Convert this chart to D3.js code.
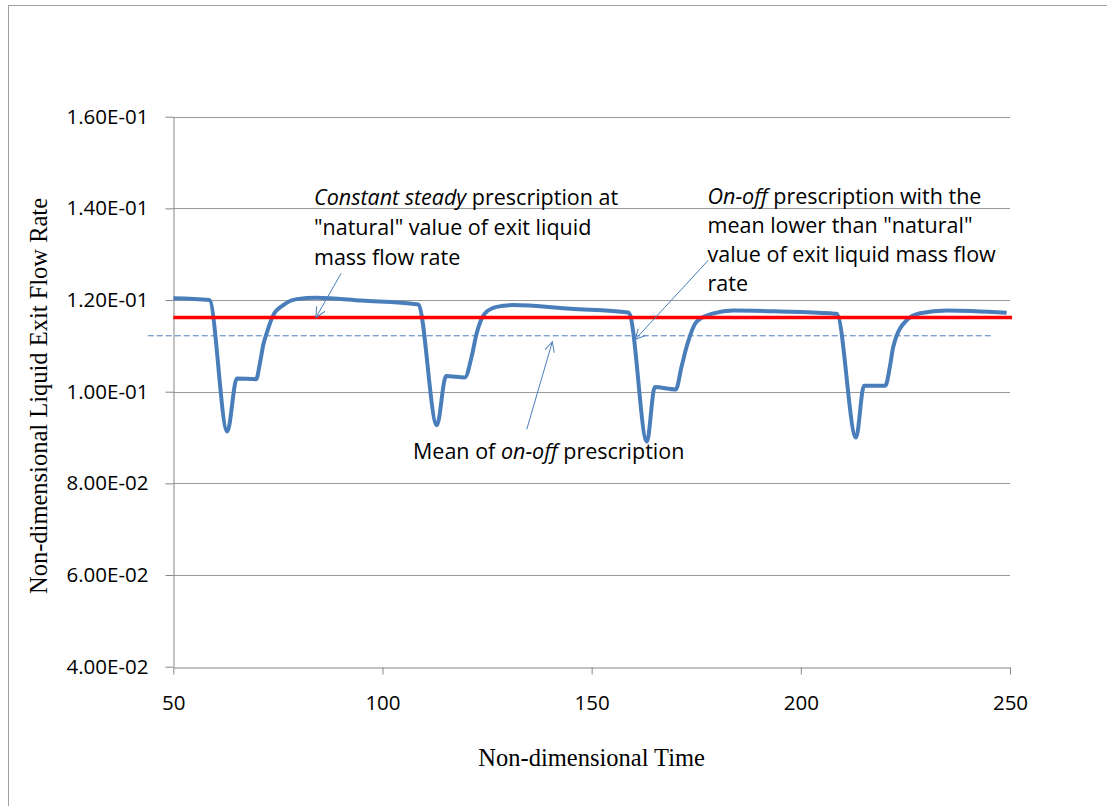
<!DOCTYPE html>
<html>
<head>
<meta charset="utf-8">
<script src="https://cdn.jsdelivr.net/npm/d3@7"></script>
<style>
  body { margin: 0; background: #fff; }
  svg { display: block; }
</style>
</head>
<body>
<script>
// on-off prescription
var timeValues = [50, 58.6, 62.9, 65.2, 69.8, 70.7, 71.5, 72.3, 73.9, 76.3, 79.5, 84.3, 95, 108.2,
    108.6, 113.0, 115.2, 119.7, 121.3, 122.5, 124.5, 127.3, 131.3, 145, 158.8,
    159.2, 163.2, 165.1, 170.1, 171.5, 172.7, 175.1, 179.1, 183.9, 195, 207.0,
    208.6, 213.2, 215.1, 220.2, 221.3, 222.1, 225.3, 228.5, 234.9, 249.2];
var flowValues = [0.1204, 0.1200, 0.0913, 0.1029, 0.1027, 0.1062, 0.1102, 0.1127, 0.1167, 0.1189, 0.1202, 0.1205, 0.1199, 0.1191,
    0.1190, 0.0927, 0.1034, 0.1031, 0.1076, 0.1127, 0.1171, 0.1185, 0.1189, 0.1181, 0.1173,
    0.1167, 0.0891, 0.1010, 0.1005, 0.1055, 0.1098, 0.1153, 0.1171, 0.1177, 0.1175, 0.1171,
    0.1170, 0.0900, 0.1013, 0.1013, 0.1055, 0.1098, 0.1156, 0.1171, 0.1177, 0.1172];

// constant steady prescription and mean of on-off
var steadyTime = [50, 250.5];
var steadyValue = [0.1162, 0.1162];
var meanTime = [43.9, 245.9];
var meanValue = [0.1122, 0.1122];

var xTicks = [50, 100, 150, 200, 250];
var yTicks = [0.04, 0.06, 0.08, 0.10, 0.12, 0.14, 0.16];
var yTickLabels = ['4.00E-02', '6.00E-02', '8.00E-02', '1.00E-01', '1.20E-01', '1.40E-01', '1.60E-01'];

// annotation arrows [x0, y0, x1, y1] in data units
var arrows = [
    [90.1, 0.1258, 84.1, 0.1162],
    [177.9, 0.1287, 160.4, 0.1114],
    [134.5, 0.0918, 140.6, 0.1109]
];

var width = 1107;
var height = 806;
var plotLeft = 173.3, plotRight = 1010, plotTop = 116.7, plotBottom = 666.7;

var svg = d3.select('body')
    .append('svg')
    .attr('width', width)
    .attr('height', height);

svg.append('rect')
    .attr('x', 8.5)
    .attr('y', 5.5)
    .attr('width', 1130)
    .attr('height', 830)
    .attr('fill', '#fff')
    .attr('stroke', '#a0a0a0');

var x = d3.scaleLinear()
    .domain([50, 250])
    .range([plotLeft, plotRight]);

var y = d3.scaleLinear()
    .domain([0.04, 0.16])
    .range([plotBottom, plotTop]);

// gridlines
svg.append('g')
    .selectAll('line')
    .data(yTicks.slice(1))
    .enter()
    .append('line')
    .attr('x1', plotLeft)
    .attr('x2', plotRight)
    .attr('y1', d => Math.round(y(d)) + 0.5)
    .attr('y2', d => Math.round(y(d)) + 0.5)
    .attr('stroke', '#9a9a9a')
    .attr('stroke-width', 1);

var textFont = '"Open Sans", Lato, sans-serif';

var xAxis = d3.axisBottom(x)
    .tickValues(xTicks)
    .tickSizeInner(7)
    .tickSizeOuter(0)
    .tickPadding(14)
    .tickFormat(d3.format('d'));

var xAxisGroup = svg.append('g')
    .attr('transform', 'translate(0,' + (Math.round(plotBottom) + 0.5) + ')')
    .call(xAxis);

var yAxis = d3.axisLeft(y)
    .tickValues(yTicks)
    .tickSizeInner(8)
    .tickSizeOuter(0)
    .tickPadding(17)
    .tickFormat((d, i) => yTickLabels[i]);

var yAxisGroup = svg.append('g')
    .attr('transform', 'translate(' + (Math.round(plotLeft) + 0.5) + ',0)')
    .call(yAxis);

[xAxisGroup, yAxisGroup].forEach(g => {
    g.selectAll('path, line').attr('stroke', '#868686');
    g.selectAll('text')
        .attr('fill', '#000')
        .style('font-family', textFont)
        .style('font-size', '20.5px');
});
xAxisGroup.selectAll('text').attr('dy', '1.05em');

// series
var line = d3.line()
    .x(d => x(d[0]))
    .y(d => y(d[1]));

svg.append('path')
    .datum(d3.zip(meanTime, meanValue))
    .attr('fill', 'none')
    .attr('stroke', '#4a7ebb')
    .attr('stroke-width', 1)
    .attr('stroke-dasharray', '6,3')
    .attr('d', line);

svg.append('path')
    .datum(d3.zip(timeValues, flowValues))
    .attr('fill', 'none')
    .attr('stroke', '#4a7ebb')
    .attr('stroke-width', 4)
    .attr('stroke-linejoin', 'round')
    .attr('d', d3.line().x(d => x(d[0])).y(d => y(d[1])).curve(d3.curveMonotoneX));

svg.append('path')
    .datum(d3.zip(steadyTime, steadyValue))
    .attr('fill', 'none')
    .attr('stroke', '#ff0000')
    .attr('stroke-width', 3.5)
    .attr('d', line);

// arrows
svg.append('defs')
    .append('marker')
    .attr('id', 'head')
    .attr('markerUnits', 'userSpaceOnUse')
    .attr('markerWidth', 14)
    .attr('markerHeight', 14)
    .attr('refX', 10)
    .attr('refY', 5)
    .attr('orient', 'auto')
    .append('path')
    .attr('d', 'M0,0 L10,5 L0,10')
    .attr('fill', 'none')
    .attr('stroke', '#4a7ebb')
    .attr('stroke-width', 1);

svg.append('g')
    .selectAll('line')
    .data(arrows)
    .enter()
    .append('line')
    .attr('x1', d => x(d[0]))
    .attr('y1', d => y(d[1]))
    .attr('x2', d => x(d[2]))
    .attr('y2', d => y(d[3]))
    .attr('stroke', '#4a7ebb')
    .attr('stroke-width', 1)
    .attr('marker-end', 'url(#head)');

// annotation texts
function note(px, py, lines, lineHeight) {
    var t = svg.append('text')
        .attr('x', px)
        .attr('y', py)
        .style('font-family', textFont)
        .style('font-size', '21.5px')
        .attr('fill', '#000');
    lines.forEach((parts, i) => {
        parts.forEach((p, j) => {
            var span = t.append('tspan').text(p[0]);
            if (j == 0) span.attr('x', px).attr('dy', i == 0 ? 0 : lineHeight);
            if (p[1]) span.style('font-style', 'italic');
        });
    });
}

note(314, 205, [
    [['Constant steady', 1], [' prescription at']],
    [['"natural" value of exit liquid']],
    [['mass flow rate']]
], 30);

note(707.5, 203.5, [
    [['On-off', 1], [' prescription with the']],
    [['mean lower than "natural"']],
    [['value of exit liquid mass flow']],
    [['rate']]
], 29);

note(413, 459, [
    [['Mean of '], ['on-off', 1], [' prescription']]
], 30);

// axis titles
svg.append('text')
    .attr('x', (plotLeft + plotRight) / 2)
    .attr('y', 766)
    .attr('text-anchor', 'middle')
    .style('font-family', '"Liberation Serif", "Times New Roman", serif')
    .style('font-size', '24.5px')
    .text('Non-dimensional Time');

svg.append('text')
    .attr('transform', 'translate(47,' + 396 + ') rotate(-90)')
    .attr('text-anchor', 'middle')
    .style('font-family', '"Liberation Serif", "Times New Roman", serif')
    .style('font-size', '24.5px')
    .text('Non-dimensional Liquid Exit Flow Rate');
</script>
</body>
</html>
